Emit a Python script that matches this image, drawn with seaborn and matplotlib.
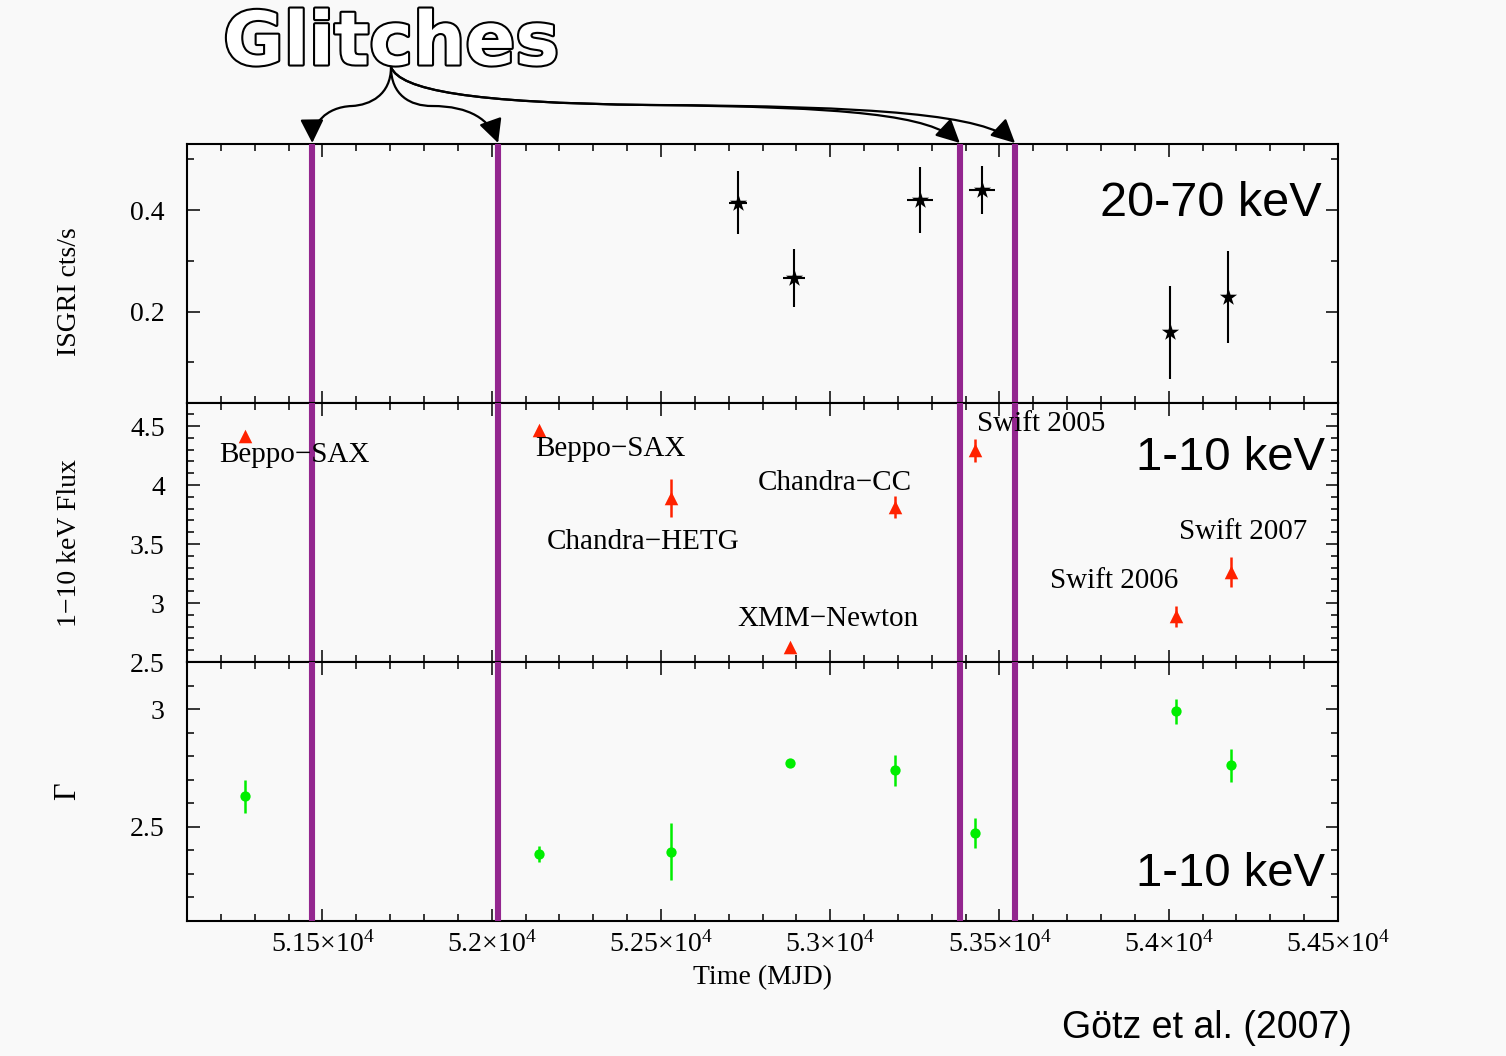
import matplotlib
matplotlib.use("Agg")
import matplotlib.pyplot as plt
import matplotlib.patheffects as pe
from matplotlib.patches import FancyArrowPatch
from matplotlib.path import Path
from matplotlib.ticker import MultipleLocator, FuncFormatter, FormatStrFormatter
import seaborn as sns

# INTEGRAL ISGRI 20-70 keV count rate
isgri_mjd = [52728, 52893, 53265, 53448, 54004, 54175]
isgri_rate = [0.414, 0.266, 0.420, 0.439, 0.159, 0.229]
isgri_err = [0.062, 0.057, 0.065, 0.047, 0.091, 0.091]
isgri_dt = [27, 32, 38, 38, 0, 0]

# 1-10 keV observations
obs_names = ["Beppo\u2212SAX", "Beppo\u2212SAX", "Chandra\u2212HETG", "XMM\u2212Newton",
             "Chandra\u2212CC", "Swift 2005", "Swift 2006", "Swift 2007"]
obs_mjd = [51272, 52141, 52530, 52882, 53192, 53428, 54020, 54185]
flux = [4.414, 4.464, 3.89, 2.63, 3.815, 4.294, 2.888, 3.26]
flux_err = [0, 0, 0.16, 0, 0.095, 0.10, 0.09, 0.127]
gamma = [2.630, 2.385, 2.395, 2.773, 2.74, 2.474, 2.991, 2.762]
gamma_err = [0.07, 0.035, 0.12, 0, 0.065, 0.063, 0.053, 0.07]

glitch_mjd = [51470, 52019, 53383, 53546]

# where the observation names sit (left edge, vertical centre)
label_x = [51195, 52129, 52164, 52726, 52785, 53435, 53650, 54031]
label_y = [4.254, 4.305, 3.52, 2.864, 4.017, 4.517, 3.189, 3.604]

bg = "#f9f9f9"
purple = "#93268f"
W, H = 1506, 1056

sns.set_theme(style="ticks")
plt.rcParams["font.family"] = ["Liberation Serif", "DejaVu Serif"]
plt.rcParams["mathtext.fontset"] = "custom"
plt.rcParams["mathtext.rm"] = "Liberation Serif"
plt.rcParams["mathtext.it"] = "Liberation Serif"
for key in ["text.color", "axes.labelcolor", "xtick.color", "ytick.color", "axes.edgecolor"]:
    plt.rcParams[key] = "black"

fig, axes = plt.subplots(3, 1, sharex=True, figsize=(W / 100, H / 100), dpi=100)
fig.patch.set_facecolor(bg)
fig.subplots_adjust(left=187 / W, right=1338 / W, bottom=1 - 921 / H, top=1 - 144 / H, hspace=0)
ax1, ax2, ax3 = axes

# top: ISGRI
ax1.errorbar(isgri_mjd, isgri_rate, yerr=isgri_err, xerr=isgri_dt, fmt="none",
             ecolor="black", elinewidth=1.5, capsize=0, zorder=2)
sns.scatterplot(x=isgri_mjd, y=isgri_rate, marker="*", s=170, color="black",
                linewidth=0, ax=ax1, zorder=3)
ax1.set_ylim(0.02, 0.53)
ax1.yaxis.set_major_locator(MultipleLocator(0.2))
ax1.yaxis.set_minor_locator(MultipleLocator(0.1))
ax1.set_ylabel("ISGRI cts/s", fontsize=20)
ax1.yaxis.set_label_coords(-0.091, 0.43)
ax1.text(0.986, 0.77, "20-70 keV", transform=ax1.transAxes, ha="right", va="center",
         fontsize=35, family="Liberation Sans")

# middle: flux
ax2.errorbar(obs_mjd, flux, yerr=flux_err, fmt="none", ecolor="#ff2200",
             elinewidth=1.8, capsize=0, zorder=2)
sns.scatterplot(x=obs_mjd, y=flux, marker="^", s=95, color="#ff2200",
                linewidth=0, ax=ax2, zorder=3)
for name, lx, ly in zip(obs_names, label_x, label_y):
    ax2.text(lx, ly, name, ha="left", va="center", fontsize=21, zorder=5)
ax2.set_ylim(2.5, 4.695)
ax2.yaxis.set_major_locator(MultipleLocator(0.5))
ax2.yaxis.set_minor_locator(MultipleLocator(0.1))
ax2.set_ylabel("1\u221210 keV Flux", fontsize=20)
ax2.yaxis.set_label_coords(-0.091, 0.461)
ax2.text(0.989, 0.789, "1-10 keV", transform=ax2.transAxes, ha="right", va="center",
         fontsize=34, family="Liberation Sans")

# bottom: photon index
ax3.errorbar(obs_mjd, gamma, yerr=gamma_err, fmt="none", ecolor="#00ee00",
             elinewidth=1.8, capsize=0, zorder=2)
sns.scatterplot(x=obs_mjd, y=gamma, marker="o", s=55, color="#00ee00",
                linewidth=0, ax=ax3, zorder=3)
ax3.set_ylim(2.1, 3.2)
ax3.yaxis.set_major_locator(MultipleLocator(0.5))
ax3.yaxis.set_minor_locator(MultipleLocator(0.1))
ax3.set_ylabel("\u0393", fontsize=22)
ax3.yaxis.set_label_coords(-0.091, 0.5)
ax3.text(0.989, 0.182, "1-10 keV", transform=ax3.transAxes, ha="right", va="center",
         fontsize=34, family="Liberation Sans")

ax3.set_xlim(51100, 54500)
ax3.xaxis.set_major_locator(MultipleLocator(500))
ax3.xaxis.set_minor_locator(MultipleLocator(100))
ax3.xaxis.set_major_formatter(FuncFormatter(lambda v, _: f"{round(v / 1e4, 3):g}\u00d710$^{{4}}$"))
ax3.set_xlabel("Time (MJD)", fontsize=20, labelpad=6)

for ax in axes:
    ax.set_facecolor(bg)
    ax.yaxis.set_major_formatter(FormatStrFormatter("%g"))
    ax.tick_params(which="both", direction="in", top=True, right=True, width=1.1,
                   colors="black", labelsize=20)
    ax.tick_params(which="major", length=9)
    ax.tick_params(which="minor", length=5)
    ax.tick_params(axis="y", pad=16)
    ax.tick_params(axis="x", pad=7)
    for s in ax.spines.values():
        s.set_linewidth(1.5)
        s.set_color("black")
    for g in glitch_mjd:
        ax.axvline(g, color=purple, lw=4.4, zorder=4)

# "Glitches" callout with arrows to the glitch epochs
fig.text(391 / W, 1 - 44 / H, "Glitches", ha="center", va="center", fontsize=53,
         fontweight="bold", family="DejaVu Sans", color="white",
         path_effects=[pe.withStroke(linewidth=3, foreground="black")])

trans = fig.transFigure
top_y = 143
start = (391, 67)
mids = [[(391, 95), (370, 105), (352, 106), (325, 107), (312, 125)],
        [(391, 95), (410, 106), (432, 106), (470, 106), (490, 120)],
        [(400, 90), (470, 103), (650, 105), (850, 107), (930, 115)],
        [(400, 90), (470, 103), (650, 105), (880, 106), (985, 115)]]
for g, m in zip(glitch_mjd, mids):
    # arrow tip at the top of the upper panel above each glitch line
    tip_fig = trans.inverted().transform(ax1.transData.transform((g, 0.53)))
    pts = [start] + m
    verts = [(x / W, 1 - y / H) for x, y in pts] + [(tip_fig[0], 1 - top_y / H)]
    codes = [Path.MOVETO] + [Path.CURVE4] * 6
    arr = FancyArrowPatch(path=Path(verts, codes), arrowstyle="-|>", mutation_scale=36,
                          color="black", lw=1.6, transform=trans)
    fig.patches.append(arr)

fig.text(1352 / W, 1 - 1028 / H, "G\u00f6tz et al. (2007)", ha="right", va="center",
         fontsize=27, family="Liberation Sans")

plt.savefig("out.png", dpi=100, facecolor=bg)
plt.close()
